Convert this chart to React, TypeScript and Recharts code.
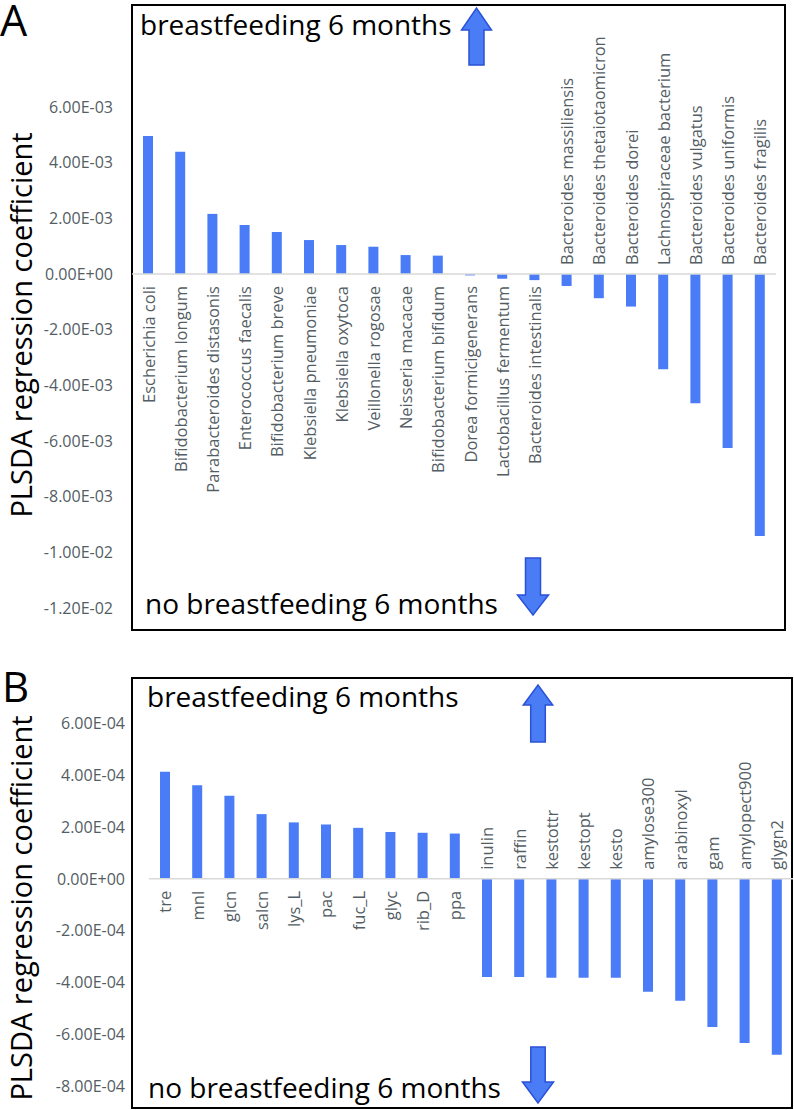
import React from "react";
import { BarChart, Bar, XAxis, YAxis, ReferenceLine, LabelList } from "recharts";

// Panel A: gut species
const speciesNames = [
  "Escherichia coli",
  "Bifidobacterium longum",
  "Parabacteroides distasonis",
  "Enterococcus faecalis",
  "Bifidobacterium breve",
  "Klebsiella pneumoniae",
  "Klebsiella oxytoca",
  "Veillonella rogosae",
  "Neisseria macacae",
  "Bifidobacterium bifidum",
  "Dorea formicigenerans",
  "Lactobacillus fermentum",
  "Bacteroides intestinalis",
  "Bacteroides massiliensis",
  "Bacteroides thetaiotaomicron",
  "Bacteroides dorei",
  "Lachnospiraceae bacterium",
  "Bacteroides vulgatus",
  "Bacteroides uniformis",
  "Bacteroides fragilis",
];
const speciesCoef = [
  4.96e-3, 4.39e-3, 2.16e-3, 1.76e-3, 1.51e-3, 1.22e-3, 1.04e-3, 0.98e-3, 0.68e-3, 0.66e-3,
  -0.05e-3, -0.17e-3, -0.22e-3, -0.43e-3, -0.87e-3, -1.17e-3, -3.42e-3, -4.64e-3, -6.25e-3, -9.41e-3,
];
const speciesTicks = [0.006, 0.004, 0.002, 0, -0.002, -0.004, -0.006, -0.008, -0.01, -0.012];
const speciesLabelsBelow = 13;

// Panel B: metabolites
const metaboliteNames = [
  "tre", "mnl", "glcn", "salcn", "lys_L", "pac", "fuc_L", "glyc", "rib_D", "ppa",
  "inulin", "raffin", "kestottr", "kestopt", "kesto", "amylose300", "arabinoxyl", "gam",
  "amylopect900", "glygn2",
];
const metaboliteCoef = [
  4.14e-4, 3.62e-4, 3.21e-4, 2.5e-4, 2.18e-4, 2.1e-4, 1.97e-4, 1.81e-4, 1.78e-4, 1.75e-4,
  -3.79e-4, -3.79e-4, -3.82e-4, -3.82e-4, -3.82e-4, -4.36e-4, -4.71e-4, -5.72e-4, -6.34e-4, -6.79e-4,
];
const metaboliteTicks = [0.0006, 0.0004, 0.0002, 0, -0.0002, -0.0004, -0.0006, -0.0008];
const metaboliteLabelsBelow = 10;

const BAR = "#4a7cf7";
const GREY = "#535d64";
const FONT = "'Open Sans', sans-serif";

const sci = (v: number) => {
  const [m, e] = v.toExponential(2).split("e");
  const n = Math.abs(parseInt(e, 10));
  return `${m}E${e.startsWith("-") ? "-" : "+"}${n < 10 ? "0" + n : n}`;
};

const makeLabel = (names: string[], values: number[], below: number) => (props: any) => {
  const vb = props.viewBox ?? props;
  const x = vb.x ?? props.x;
  const y = vb.y ?? props.y;
  const w = vb.width ?? props.width;
  const h = vb.height ?? props.height;
  const i = props.index;
  const top = Math.min(y, y + h);
  const bottom = Math.max(y, y + h);
  const zeroY = values[i] >= 0 ? bottom : top;
  const cx = x + w / 2;
  const isBelow = i < below;
  const ty = isBelow ? zeroY + 12 : zeroY - 9;
  return (
    <text
      x={cx}
      y={ty}
      transform={`rotate(-90 ${cx} ${ty})`}
      textAnchor={isBelow ? "end" : "start"}
      dominantBaseline="central"
      fontSize={16.5}
      fill={GREY}
      fontFamily={FONT}
    >
      {names[i]}
    </text>
  );
};

const Arrow = ({ cx, tail, base, tip, head, shaft }: any) => {
  const pts = [
    [cx - shaft, tail],
    [cx - shaft, base],
    [cx - head, base],
    [cx, tip],
    [cx + head, base],
    [cx + shaft, base],
    [cx + shaft, tail],
  ]
    .map((p) => p.join(","))
    .join(" ");
  return <polygon points={pts} fill="#4a7cf6" stroke="#2a52d6" strokeWidth={1.5} strokeLinejoin="miter" />;
};

export default function App() {
  const dataA = speciesNames.map((name, i) => ({ name, value: speciesCoef[i] }));
  const dataB = metaboliteNames.map((name, i) => ({ name, value: metaboliteCoef[i] }));
  const tickStyle = { fill: GREY, fontSize: 16, fontFamily: FONT };

  return (
    <div style={{ position: "absolute", left: 0, top: 0, width: 794, height: 1110, background: "#fff", fontFamily: FONT }}>
      {/* frames */}
      <div style={{ position: "absolute", left: 131, top: 4, width: 655, height: 627, border: "2.5px solid #000", boxSizing: "border-box" }} />
      <div style={{ position: "absolute", left: 131, top: 677, width: 662, height: 432, border: "2.5px solid #000", boxSizing: "border-box" }} />

      {/* A */}
      <div style={{ position: "absolute", left: 0, top: 0 }}>
        <BarChart width={794} height={640} data={dataA} margin={{ top: 107, right: 18, bottom: 32, left: 0 }}>
          <XAxis dataKey="name" hide />
          <YAxis
            width={132}
            domain={[-0.012, 0.006]}
            ticks={speciesTicks}
            tickFormatter={sci}
            axisLine={false}
            tickLine={false}
            tickSize={0}
            tickMargin={19}
            tick={tickStyle}
            interval={0}
          />
          <ReferenceLine y={0} stroke="#d9d9d9" strokeWidth={1.5} />
          <Bar dataKey="value" fill={BAR} barSize={10} isAnimationActive={false}>
            <LabelList dataKey="name" content={makeLabel(speciesNames, speciesCoef, speciesLabelsBelow)} />
          </Bar>
        </BarChart>
      </div>

      {/* B */}
      <div style={{ position: "absolute", left: 0, top: 670 }}>
        <BarChart width={794} height={440} data={dataB} margin={{ top: 53.5, right: 1, bottom: 24, left: 0 }}>
          <XAxis dataKey="name" hide />
          <YAxis
            width={149}
            domain={[-0.0008, 0.0006]}
            ticks={metaboliteTicks}
            tickFormatter={sci}
            axisLine={false}
            tickLine={false}
            tickSize={0}
            tickMargin={24}
            tick={tickStyle}
            interval={0}
          />
          <ReferenceLine y={0} stroke="#d9d9d9" strokeWidth={1.5} />
          <Bar dataKey="value" fill={BAR} barSize={10} isAnimationActive={false}>
            <LabelList dataKey="name" content={makeLabel(metaboliteNames, metaboliteCoef, metaboliteLabelsBelow)} />
          </Bar>
        </BarChart>
      </div>

      {/* annotations */}
      <svg width={794} height={1110} style={{ position: "absolute", left: 0, top: 0, pointerEvents: "none" }} fontFamily={FONT}>
        <text x={0} y={36} fontSize={43} fill="#000">A</text>
        <text x={2} y={702} fontSize={42} fill="#000">B</text>

        <text x={20} y={325} fontSize={29} fill="#000" textAnchor="middle" dominantBaseline="central" transform="rotate(-90 20 325)">
          PLSDA regression coefficient
        </text>
        <text x={20} y={908} fontSize={29} fill="#000" textAnchor="middle" dominantBaseline="central" transform="rotate(-90 20 908)">
          PLSDA regression coefficient
        </text>

        <text x={140} y={35} fontSize={28} fill="#000">breastfeeding 6 months</text>
        <text x={145} y={614} fontSize={28} fill="#000">no breastfeeding 6 months</text>
        <text x={147} y={707} fontSize={28} fill="#000">breastfeeding 6 months</text>
        <text x={148} y={1098} fontSize={28} fill="#000">no breastfeeding 6 months</text>

        <Arrow cx={476.5} tail={65} base={30} tip={8} head={15} shaft={7.5} />
        <Arrow cx={533} tail={558} base={595} tip={615} head={15.5} shaft={7.5} />
        <Arrow cx={538} tail={742} base={705} tip={685} head={14.7} shaft={7.3} />
        <Arrow cx={538} tail={1047} base={1082} tip={1103} head={15.5} shaft={7.2} />
      </svg>
    </div>
  );
}
